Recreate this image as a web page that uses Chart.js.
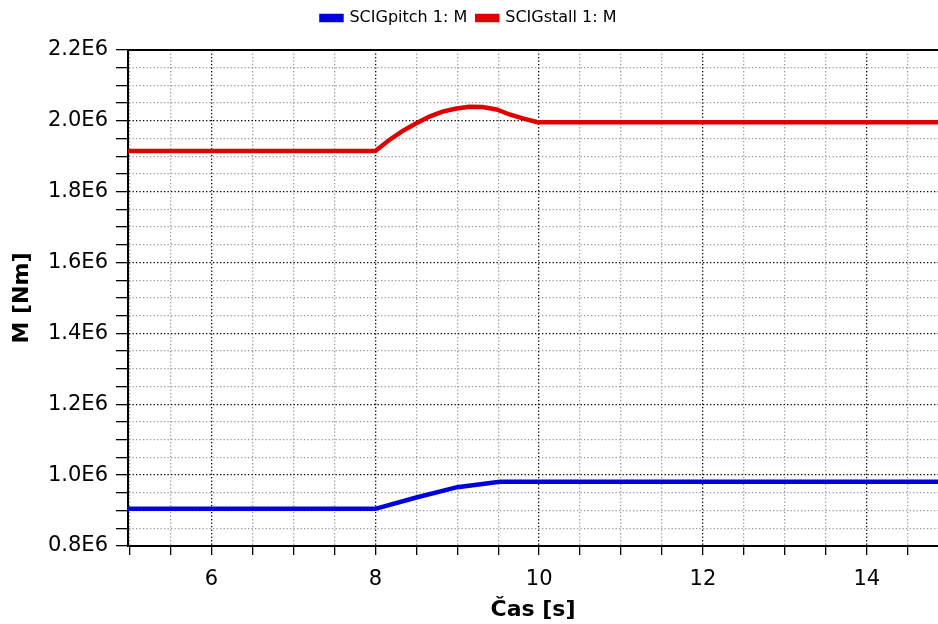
<!DOCTYPE html>
<html>
<head>
<meta charset="utf-8">
<script src="https://cdn.jsdelivr.net/npm/chart.js@4/dist/chart.umd.min.js"></script>
<style>
  html, body { margin: 0; padding: 0; background: #fff; }
  #wrap { width: 938px; height: 624px; }
</style>
</head>
<body>
<div id="wrap"><canvas id="torqueChart"></canvas></div>
<script>
/* data */
const pitchTime = [4.98, 8, 8.5, 9.0, 9.52, 14.87]
const pitchTorque = [0.905e6, 0.905e6, 0.937e6, 0.966e6, 0.981e6, 0.981e6]

const stallTime = [4.98, 8, 8.17, 8.33, 8.5, 8.66, 8.82, 8.99, 9.15, 9.31, 9.48, 9.64, 9.8, 9.98, 14.87]
const stallTorque = [1.915e6, 1.915e6, 1.946e6, 1.971e6, 1.993e6, 2.012e6, 2.026e6, 2.035e6, 2.04e6, 2.039e6, 2.032e6, 2.018e6, 2.007e6, 1.996e6, 1.996e6]

const xLabels = [6, 8, 10, 12, 14]
const yLabels = [0.8e6, 1.0e6, 1.2e6, 1.4e6, 1.6e6, 1.8e6, 2.0e6, 2.2e6]

Chart.defaults.font.family = '"DejaVu Sans", Verdana, sans-serif'
Chart.defaults.color = '#000'

const toPoints = (xs, ys) => xs.map((x, i) => ({x: x, y: ys[i]}))

const isMajorX = v => xLabels.includes(v)
const isMajorY = v => yLabels.some(l => Math.abs(l - v) < 1)

const data = {
    datasets: [{
        label: 'SCIGpitch 1: M',
        data: toPoints(pitchTime, pitchTorque),
        borderColor: '#0000e0',
        backgroundColor: '#0000e0',
        borderWidth: 4.5,
        pointRadius: 0,
        tension: 0
    }, {
        label: 'SCIGstall 1: M',
        data: toPoints(stallTime, stallTorque),
        borderColor: '#e00000',
        backgroundColor: '#e00000',
        borderWidth: 4.5,
        pointRadius: 0,
        tension: 0
    }]
}

const options = {
    responsive: true,
    maintainAspectRatio: false,
    animation: false,
    layout: {padding: {left: 0, right: 0, top: 0, bottom: 0}},
    plugins: {
        legend: {
            position: 'top',
            labels: {
                boxWidth: 20,
                boxHeight: 4,
                padding: 10,
                font: {size: 16}
            }
        },
        tooltip: {enabled: false}
    },
    scales: {
        x: {
            type: 'linear',
            min: 4.98,
            max: 14.87,
            afterFit: s => { s.height = 78 },
            ticks: {
                stepSize: 0.5,
                autoSkip: false,
                includeBounds: false,
                maxRotation: 0,
                padding: 12,
                font: {size: 21},
                callback: v => isMajorX(v) ? String(v) : ''
            },
            grid: {
                color: c => isMajorX(c.tick.value) ? '#000' : '#999',
                tickColor: '#000',
                tickLength: 9,
                lineWidth: 1.3
            },
            border: {color: '#000', width: 2, dash: [1.3, 2.2]},
            title: {
                display: true,
                text: 'Čas [s]',
                font: {size: 22, weight: 'bold'},
                padding: {top: 0, bottom: 1}
            }
        },
        xTop: {
            type: 'linear',
            position: 'top',
            min: 4.98,
            max: 14.87,
            afterFit: s => { s.height = 14 },
            ticks: {display: false},
            grid: {display: false, drawTicks: false},
            border: {color: '#000', width: 2}
        },
        y: {
            min: 0.8e6,
            max: 2.2e6,
            afterFit: s => { s.width = 128 },
            ticks: {
                stepSize: 0.05e6,
                autoSkip: false,
                padding: 8,
                font: {size: 21},
                callback: v => isMajorY(v) ? (v / 1e6).toFixed(1) + 'E6' : ''
            },
            grid: {
                color: c => isMajorY(c.tick.value) ? '#000' : '#999',
                tickColor: '#000',
                tickLength: 12,
                lineWidth: 1.3
            },
            border: {color: '#000', width: 2, dash: [1.3, 2.2]},
            title: {
                display: true,
                text: 'M [Nm]',
                font: {size: 22, weight: 'bold'},
                padding: {top: 9, bottom: 0}
            }
        }
    }
}

new Chart('torqueChart', {type: 'line', data, options})
</script>
</body>
</html>
